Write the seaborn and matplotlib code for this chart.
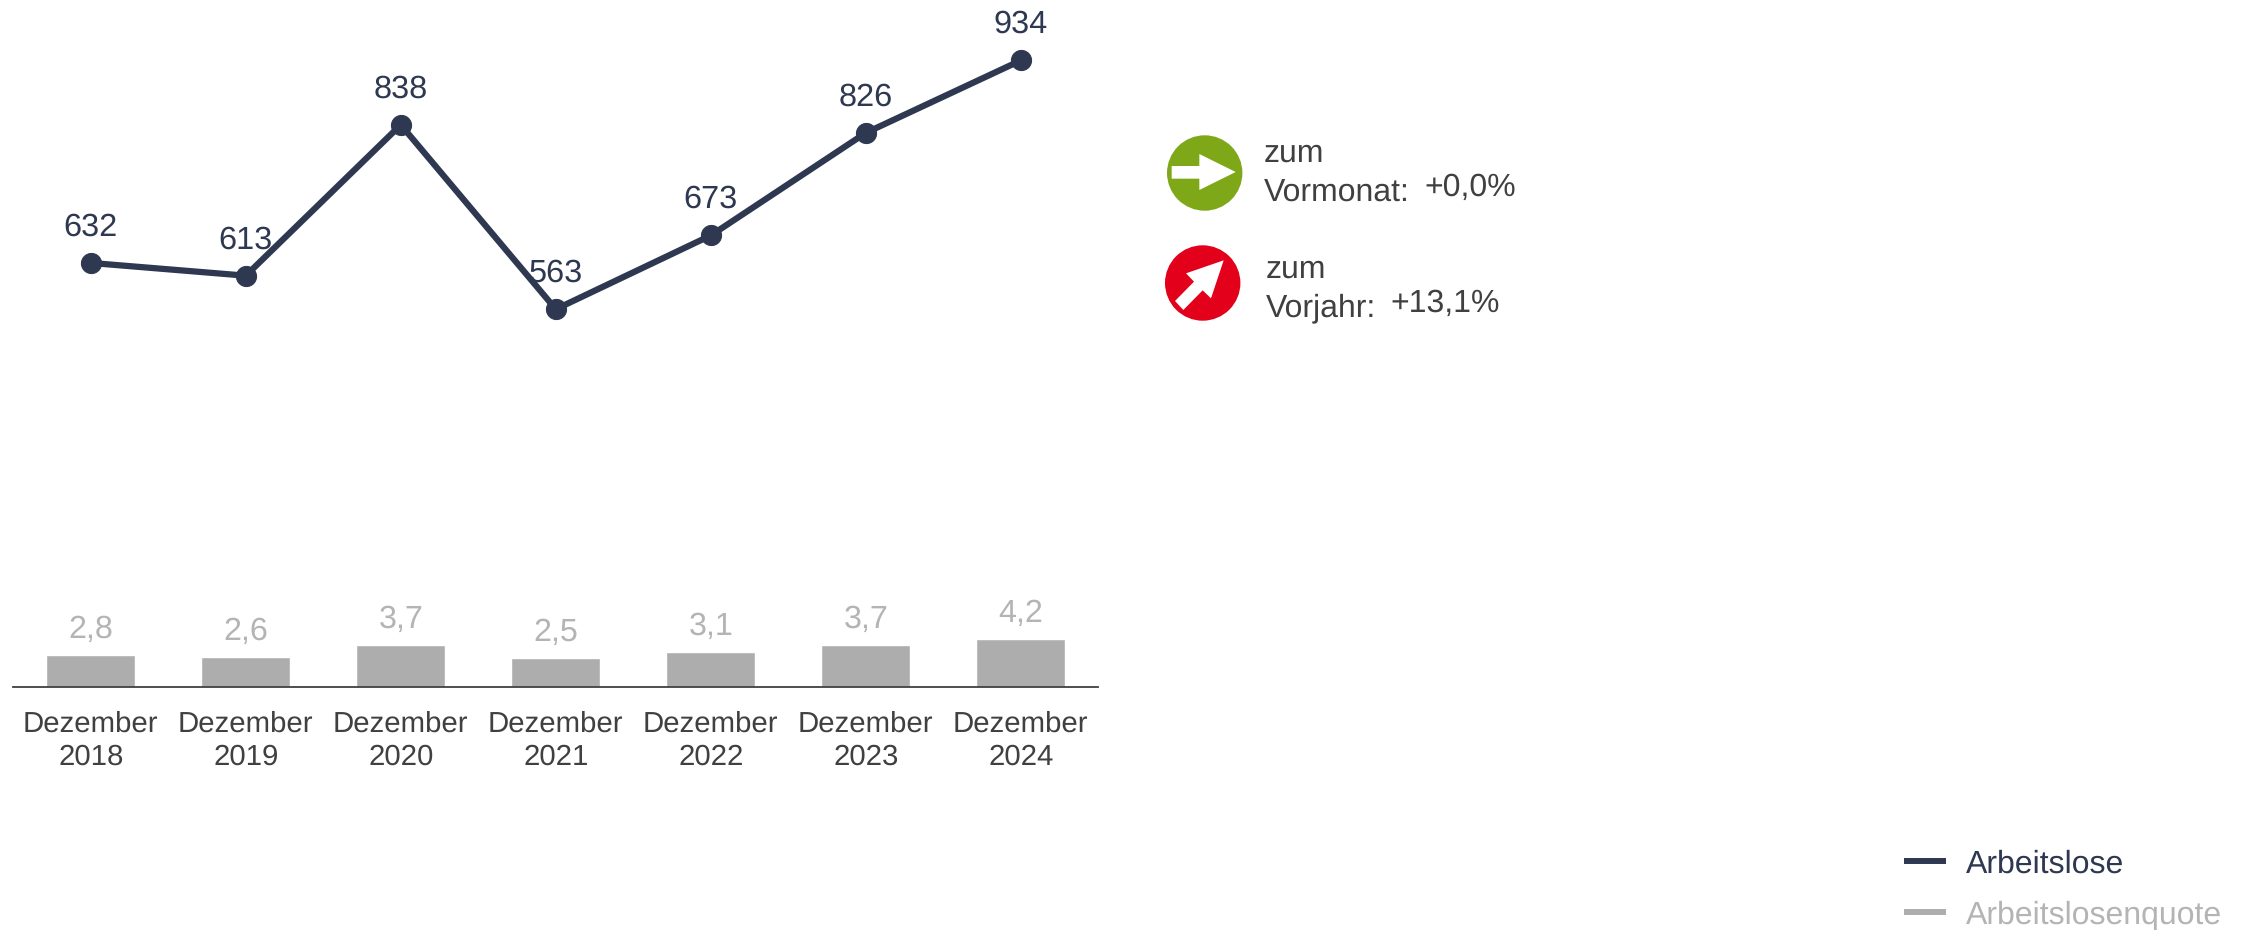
import matplotlib
matplotlib.use("Agg")
import matplotlib.pyplot as plt
from matplotlib.lines import Line2D
from matplotlib.patches import Circle, Polygon
import seaborn as sns

categories = ["Dezember\n2018", "Dezember\n2019", "Dezember\n2020", "Dezember\n2021",
              "Dezember\n2022", "Dezember\n2023", "Dezember\n2024"]
arbeitslose = [632, 613, 838, 563, 673, 826, 934]
quote = [2.8, 2.6, 3.7, 2.5, 3.1, 3.7, 4.2]
series_names = ["Arbeitslose", "Arbeitslosenquote"]

NAVY = "#2e3850"
BAR = "#adadad"
GREY = "#b4b4b4"
TEXT = "#404040"
GREEN = "#7fa818"
RED = "#e2001a"
W, H = 2247, 930

sns.set_theme(style="white")
plt.rcParams["font.family"] = ["Liberation Sans", "DejaVu Sans"]
plt.rcParams["text.hinting"] = "none"

fig = plt.figure(figsize=(W / 100, H / 100), dpi=100, facecolor="white")
left, right, base = 13.3, 1098.3, 686.7
ax_bar = fig.add_axes([left / W, 1 - base / H, (right - left) / W, base / H])
ax_line = ax_bar.twinx()

sns.barplot(x=categories, y=quote, color=BAR, width=0.575, saturation=1, ax=ax_bar)
sns.lineplot(x=categories, y=arbeitslose, color=NAVY, lw=4.5, marker="o", ms=14.5,
             mec=NAVY, mfc=NAVY, sort=False, errorbar=None, ax=ax_line)
ax_bar.set_xlim(-0.5, 6.5)
ax_bar.set_ylim(0, base / 11.35)
ax_line.set_ylim(0, base / 0.6705)

for ax in (ax_bar, ax_line):
    ax.set_yticks([])
    ax.set_ylabel("")
    for s in ("top", "left", "right"):
        ax.spines[s].set_visible(False)
ax_line.spines["bottom"].set_visible(False)
ax_bar.spines["bottom"].set_color(TEXT)
ax_bar.spines["bottom"].set_linewidth(1.3)
ax_bar.tick_params(axis="x", length=0, pad=17.2, labelsize=21.2, labelcolor=TEXT)
ax_line.tick_params(axis="x", length=0, labelbottom=False)
for t in ax_bar.get_xticklabels():
    t.set_linespacing(1.28)

for i, v in enumerate(quote):
    ax_bar.annotate(f"{v:.1f}".replace(".", ","), (i, v), xytext=(0, 12.2), textcoords="offset points",
                    ha="center", va="baseline", fontsize=23.2, color=GREY)
for i, v in enumerate(arbeitslose):
    ax_line.annotate(str(v), (i, v), xytext=(0, 19.7), textcoords="offset points",
                     ha="center", va="baseline", fontsize=23.4, color=NAVY)

# overlay in pixel coordinates for the status icons
ov = fig.add_axes([0, 0, 1, 1], facecolor="none")
ov.set_xlim(0, W)
ov.set_ylim(H, 0)
ov.axis("off")

ov.add_patch(Circle((1204.7, 173), 37.7, fc=GREEN, ec="none"))
ov.add_patch(Circle((1202.7, 283), 37.7, fc=RED, ec="none"))
Z = 1 / 3
green_arrow = [(155, 198), (238, 198), (238, 162), (347, 216), (238, 270), (238, 236), (155, 236)]
red_arrow = [(311, 481), (198, 520), (222, 545), (165, 603), (190, 630), (248, 571), (273, 595)]
for pts in (green_arrow, red_arrow):
    ov.add_patch(Polygon([(1120 + x * Z, 100 + y * Z) for x, y in pts], fc="white", ec="none"))

status = [(1263.3, 162, "zum"), (1263.8, 200.7, "Vormonat:"), (1424, 196, "+0,0%"),
          (1265.7, 277.7, "zum"), (1266, 316.7, "Vorjahr:"), (1390, 311.7, "+13,1%")]
for x, y, s in status:
    ov.text(x, y, s, ha="left", va="baseline", fontsize=23.0, color=TEXT)

handles = [Line2D([], [], color=NAVY, lw=4.3, solid_capstyle="butt"),
           Line2D([], [], color=BAR, lw=4.3, solid_capstyle="butt")]
fig.legend(handles, series_names, loc="lower left",
           bbox_to_anchor=(1903.5 / W, 1 - 929.5 / H), frameon=False, fontsize=23.0,
           labelcolor=[NAVY, GREY], handlelength=1.32, handletextpad=0.62,
           labelspacing=0.64, borderpad=0, borderaxespad=0)

fig.savefig("out.png", dpi=100, facecolor="white")
